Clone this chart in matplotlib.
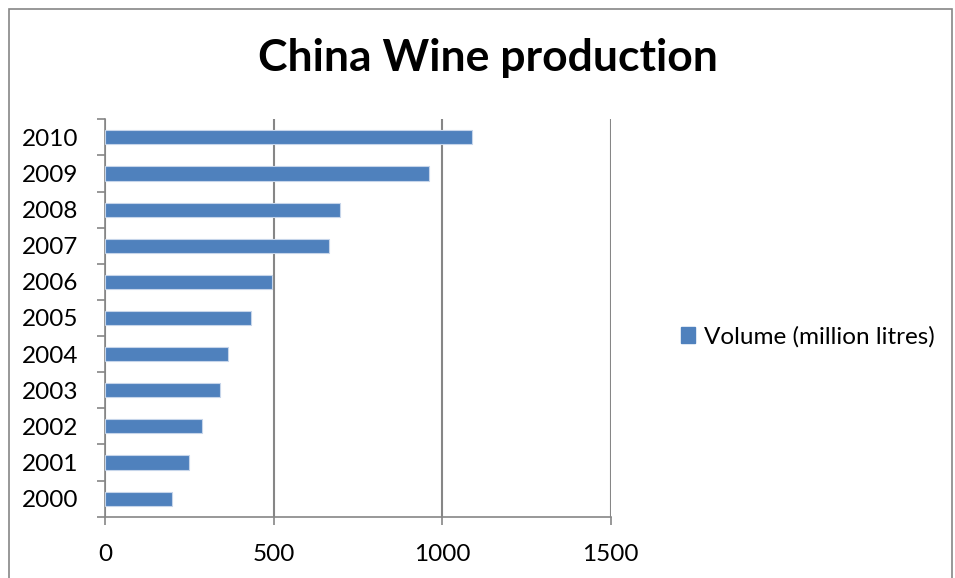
import matplotlib.pyplot as plt
from matplotlib.patches import Rectangle, Patch

years = ["2000", "2001", "2002", "2003", "2004", "2005",
         "2006", "2007", "2008", "2009", "2010"]
volume = [200, 249, 288, 342, 366, 433, 495, 665, 697, 960, 1089]
x_ticks = [0, 500, 1000, 1500]

bar_color = "#4F81BD"
grid_color = "#868686"
font = ["Lato", "DejaVu Sans"]

fig = plt.figure(figsize=(9.55, 5.78), dpi=100)
fig.patches.append(Rectangle((9 / 955, -0.05), 943 / 955, 1.05 - 9 / 578,
                             transform=fig.transFigure, fill=False,
                             edgecolor=grid_color, linewidth=1.2))

ax = fig.add_axes([105 / 955, 1 - 516.7 / 578, (610.7 - 105) / 955, (516.7 - 119.3) / 578])
pos = list(range(len(years)))
ax.barh(pos, volume, height=0.39, color=bar_color, edgecolor="#C6D5EA",
        linewidth=0.8, zorder=3)

ax.set_xlim(0, 1500)
ax.set_ylim(-0.5, len(years) - 0.5)
ax.set_xticks(x_ticks)
ax.set_xticklabels([str(t) for t in x_ticks], fontsize=17.5, family=font)
ax.set_yticks(pos)
ax.set_yticklabels(years, fontsize=17.5, family=font)
ax.set_yticks([p - 0.5 for p in pos] + [len(years) - 0.5], minor=True)
ax.tick_params(axis="y", which="major", length=0, pad=19)
ax.tick_params(axis="y", which="minor", length=6, color=grid_color, width=1.2)
ax.tick_params(axis="x", length=6, color=grid_color, width=1.2, pad=14)

ax.xaxis.grid(True, color=grid_color, linewidth=1.5, zorder=0)
for s in ["top", "right"]:
    ax.spines[s].set_visible(False)
for s in ["left", "bottom"]:
    ax.spines[s].set_color(grid_color)
    ax.spines[s].set_linewidth(1.2)

fig.text(488 / 955, 1 - 58 / 578, "China Wine production", ha="center", va="center",
         fontsize=32, fontweight="bold", family=font)

fig.legend(handles=[Patch(color=bar_color, label="Volume (million litres)")],
           loc="center left", bbox_to_anchor=(659 / 955, 1 - 337 / 578),
           frameon=False, prop={"family": font, "size": 17.5},
           handlelength=0.6, handleheight=0.6, handletextpad=0.35)

fig.savefig("out.png", dpi=100)
